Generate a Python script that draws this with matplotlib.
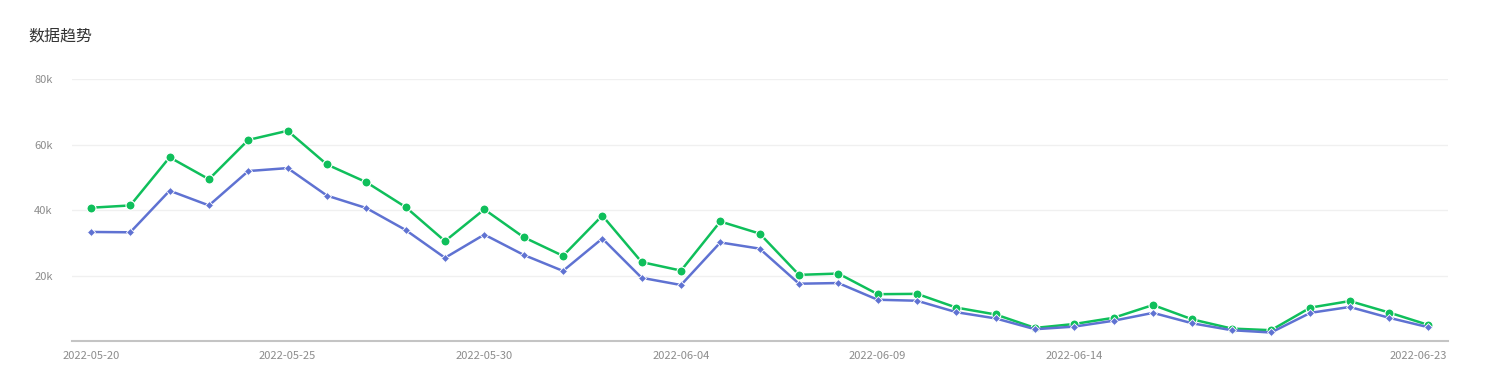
import matplotlib
matplotlib.use("Agg")
import matplotlib.pyplot as plt
import matplotlib.transforms as mtransforms
import pandas as pd

plt.rcParams['font.family'] = ['Noto Sans CJK SC', 'DejaVu Sans']

dates = pd.date_range("2022-05-20", "2022-06-23").strftime("%Y-%m-%d").tolist()

green = [40.7, 41.4, 56.1, 49.4, 61.4, 64.2, 53.9, 48.5, 40.9, 30.5,
         40.2, 31.7, 26.0, 38.3, 24.1, 21.5, 36.5, 32.8, 20.2, 20.6,
         14.3, 14.4, 10.2, 8.1, 4.0, 5.2, 7.1, 11.0, 6.6, 3.8,
         3.3, 10.2, 12.2, 8.7, 4.9]
blue = [33.3, 33.2, 45.9, 41.4, 51.9, 52.8, 44.4, 40.6, 33.9, 25.4,
        32.5, 26.3, 21.4, 31.3, 19.3, 17.1, 30.1, 28.2, 17.5, 17.7,
        12.6, 12.3, 8.8, 6.9, 3.6, 4.4, 6.2, 8.6, 5.4, 3.3,
        2.6, 8.6, 10.4, 7.1, 4.2]

yticks = [20000, 40000, 60000, 80000]
ytick_labels = ["20k", "40k", "60k", "80k"]
xtick_idx = [0, 5, 10, 15, 20, 25, 34]

fig = plt.figure(figsize=(14.89, 3.74), dpi=100)
ax = fig.add_axes([0.0484, 0.0882, 0.9241, 0.7005])

x = list(range(len(dates)))
gvals = [v * 1000 for v in green]
bvals = [v * 1000 for v in blue]

ax.plot(x, gvals, color="#0fbf5b", lw=1.8, marker="o", ms=6.5,
        markeredgecolor="white", markeredgewidth=0.8, zorder=3)
ax.plot(x, bvals, color="#5f72d2", lw=1.8, marker="D", ms=4.5,
        markeredgecolor="white", markeredgewidth=0.6, zorder=4)

ax.set_xlim(-0.48, 34.5)
ax.set_ylim(0, 80000)
ax.set_yticks(yticks)
ax.set_yticklabels(ytick_labels)
ax.set_xticks(xtick_idx)
ax.set_xticklabels([dates[i] for i in xtick_idx])

ax.grid(axis="y", color="#f0f0f0", lw=1)
ax.set_axisbelow(True)
for s in ["top", "right", "left"]:
    ax.spines[s].set_visible(False)
ax.spines["bottom"].set_color("#c4c4c4")
ax.spines["bottom"].set_linewidth(1.5)
ax.tick_params(axis="both", length=0, labelsize=8, colors="#8c8c8c")
ax.tick_params(axis="y", pad=14)
ax.tick_params(axis="x", pad=7)

# last date label is pushed left so it ends at the axis edge
last = ax.get_xticklabels()[-1]
last.set_horizontalalignment("right")
last.set_transform(last.get_transform() +
                   mtransforms.ScaledTranslation(19 / 100, 0, fig.dpi_scale_trans))

fig.text(28 / 1489, 1 - 36 / 374, "数据趋势", fontsize=11.5, color="#333333",
         ha="left", va="center")

fig.savefig("out.png", dpi=100)
